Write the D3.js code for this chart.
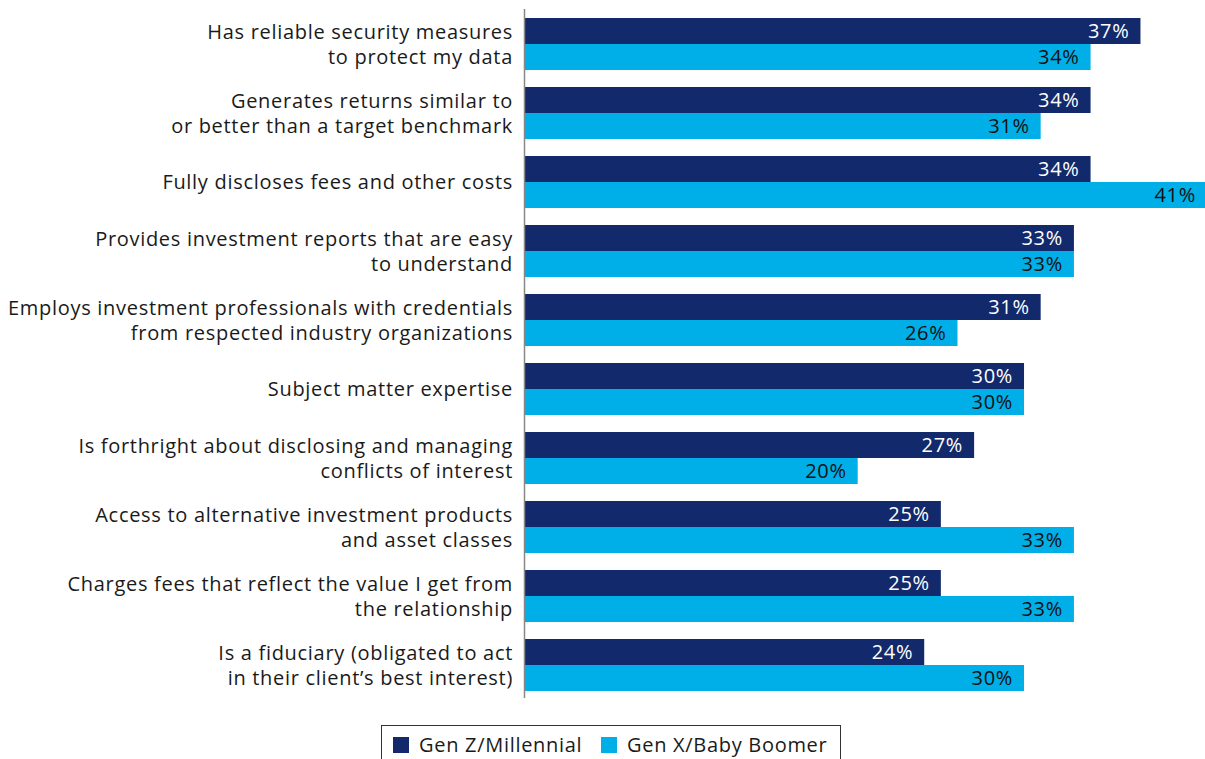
<!DOCTYPE html>
<html>
<head>
<meta charset="utf-8">
<script src="https://cdn.jsdelivr.net/npm/d3@7"></script>
<style>
  html, body { margin: 0; padding: 0; background: #fff; }
  svg { display: block; font-family: "Open Sans", Lato, sans-serif; letter-spacing: 0.7px; }
</style>
</head>
<body>
<svg id="chart" width="1205" height="759"></svg>
<script>
// Attribute labels (each line drawn separately)
const categories = [
  ["Has reliable security measures", "to protect my data"],
  ["Generates returns similar to", "or better than a target benchmark"],
  ["Fully discloses fees and other costs"],
  ["Provides investment reports that are easy", "to understand"],
  ["Employs investment professionals with credentials", "from respected industry organizations"],
  ["Subject matter expertise"],
  ["Is forthright about disclosing and managing", "conflicts of interest"],
  ["Access to alternative investment products", "and asset classes"],
  ["Charges fees that reflect the value I get from", "the relationship"],
  ["Is a fiduciary (obligated to act", "in their client\u2019s best interest)"]
];
const seriesNames = ["Gen Z/Millennial", "Gen X/Baby Boomer"];
const genZMillennial = [37, 34, 34, 33, 31, 30, 27, 25, 25, 24];
const genXBoomer     = [34, 31, 41, 33, 26, 30, 20, 33, 33, 30];
const colors = ["#12296b", "#00aee8"];
const labelColors = ["#ffffff", "#111111"];

const svg = d3.select("#chart");
const axisX = 524.5;
const ids = d3.range(categories.length);

const y = d3.scaleBand().domain(ids).range([18, 691]).paddingInner(17 / 69).paddingOuter(0);
const ySub = d3.scaleBand().domain([0, 1]).range([0, y.bandwidth()]);
const x = d3.scaleLinear().domain([0, 41]).range([525, 1207]);

const series = [genZMillennial, genXBoomer];

const groups = svg.append("g").selectAll("g")
  .data(ids).join("g")
  .attr("transform", i => `translate(0,${y(i)})`);

series.forEach((vals, s) => {
  groups.append("rect")
    .attr("x", x(0))
    .attr("y", ySub(s))
    .attr("width", i => x(vals[i]) - x(0))
    .attr("height", ySub.bandwidth())
    .attr("fill", colors[s]);
  groups.append("text")
    .attr("x", i => x(vals[i]) - 11)
    .attr("y", ySub(s) + ySub.bandwidth() / 2)
    .attr("dy", "0.36em")
    .attr("text-anchor", "end")
    .attr("font-size", 20)
    .attr("fill", labelColors[s])
    .text(i => vals[i] + "%");
});

// Category labels, right-aligned against the axis
groups.append("text")
  .attr("text-anchor", "end")
  .attr("font-size", 20)
  .attr("fill", "#1a1a1a")
  .each(function(i) {
    const lines = categories[i];
    const mid = y.bandwidth() / 2;
    const lh = 25;
    const t = d3.select(this);
    lines.forEach((ln, k) => {
      t.append("tspan")
        .attr("x", 513)
        .attr("y", mid + (k - (lines.length - 1) / 2) * lh)
        .attr("dy", "0.36em")
        .text(ln);
    });
  });

// Vertical axis line
svg.append("line")
  .attr("x1", axisX).attr("x2", axisX)
  .attr("y1", 9).attr("y2", 698)
  .attr("stroke", "#888").attr("stroke-width", 1.5);

// Legend
const legend = svg.append("g");
legend.append("rect")
  .attr("x", 381.5).attr("y", 725.5)
  .attr("width", 459).attr("height", 50)
  .attr("fill", "#fff").attr("stroke", "#333").attr("stroke-width", 1);
const legendX = [393, 601];
seriesNames.forEach((name, s) => {
  legend.append("rect")
    .attr("x", legendX[s]).attr("y", 737)
    .attr("width", 16).attr("height", 16)
    .attr("fill", colors[s]);
  legend.append("text")
    .attr("x", legendX[s] + 26).attr("y", 745)
    .attr("dy", "0.36em")
    .attr("font-size", 20)
    .attr("fill", "#1a1a1a")
    .text(name);
});
</script>
</body>
</html>
